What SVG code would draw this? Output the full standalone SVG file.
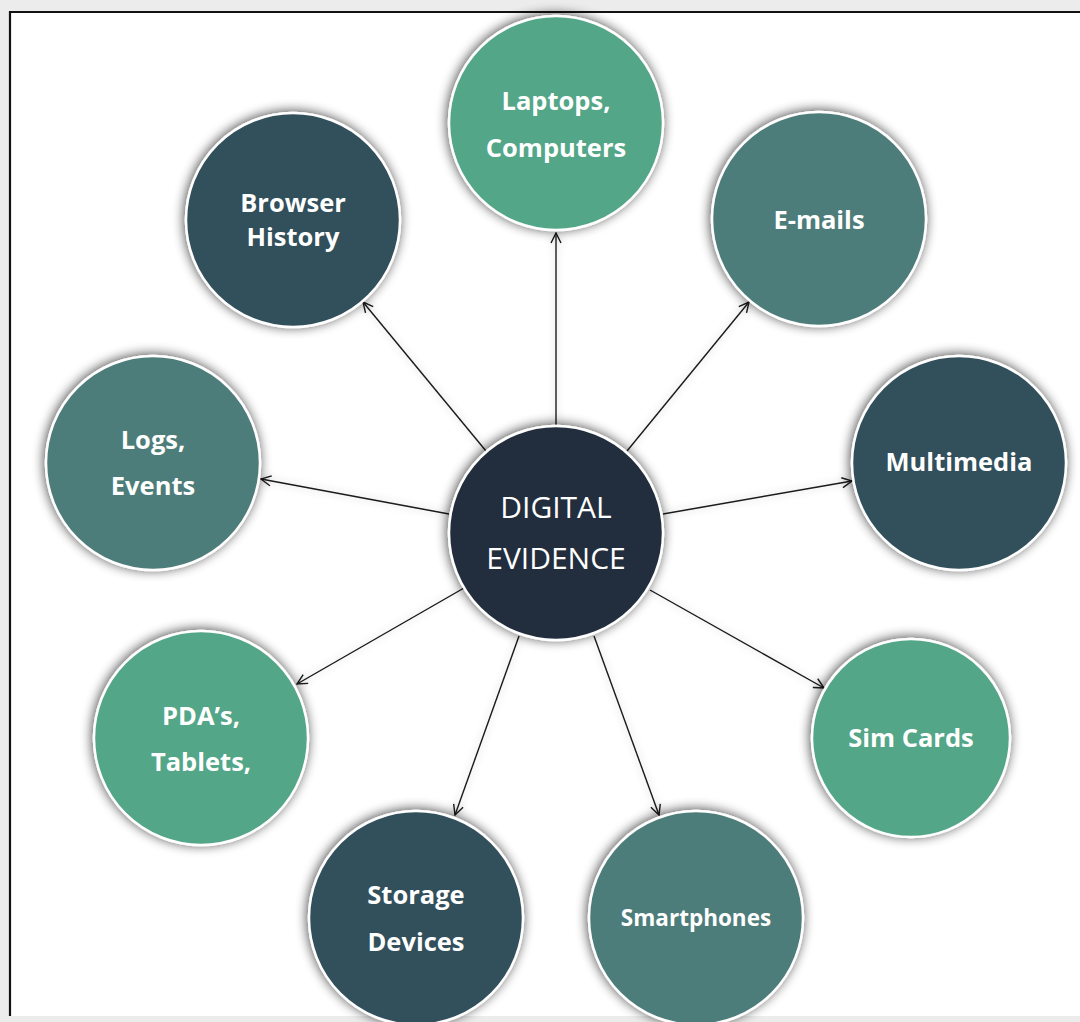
<svg xmlns="http://www.w3.org/2000/svg" width="1080" height="1022" viewBox="0 0 1080 1022">
<defs>
<style>
.node{stroke:#fff;stroke-width:2.5;filter:url(#sh)}
.green{fill:#52a688}
.teal{fill:#4e7d7a}
.dark{fill:#324f5c}
.center{fill:#222f3c}
.lbl{font-family:"Open Sans","Noto Sans",sans-serif;font-weight:700;font-size:25.5px;fill:#fff;text-anchor:middle}
.clbl{font-family:"Open Sans","Noto Sans",sans-serif;font-weight:400;font-size:30px;fill:#fff;text-anchor:middle}
.edge{stroke:#1a1a1a;stroke-width:1.4;fill:none;marker-end:url(#arr)}
</style>
<filter id="sh" x="-20%" y="-20%" width="140%" height="140%">
<feGaussianBlur in="SourceAlpha" stdDeviation="6"/>
<feOffset dx="-1" dy="-1" result="b"/>
<feComponentTransfer><feFuncA type="linear" slope="0.7"/></feComponentTransfer>
<feMerge><feMergeNode/><feMergeNode in="SourceGraphic"/></feMerge>
</filter>
<filter id="lsh" x="-20%" y="-20%" width="140%" height="140%">
<feGaussianBlur in="SourceAlpha" stdDeviation="4"/>
<feOffset dx="0" dy="0"/>
<feComponentTransfer><feFuncA type="linear" slope="0.25"/></feComponentTransfer>
<feMerge><feMergeNode/><feMergeNode in="SourceGraphic"/></feMerge>
</filter>
<marker id="arr" viewBox="0 0 12 12" refX="11" refY="6" markerWidth="12" markerHeight="12" markerUnits="userSpaceOnUse" orient="auto">
<path d="M1,1 L11,6 L1,11" fill="none" stroke="#1a1a1a" stroke-width="1.4"/>
</marker>
</defs>
<rect x="0" y="0" width="1080" height="1022" fill="#ececec"/>
<rect x="10" y="12" width="1070" height="1004" fill="#fff"/>
<path d="M10,1016 L10,12 L1080,12" fill="none" stroke="#111" stroke-width="2.2"/>

<g id="connectors" filter="url(#lsh)">
<line class="edge" x1="556" y1="426" x2="556" y2="233"/>
<line class="edge" x1="486" y1="451" x2="363" y2="302"/>
<line class="edge" x1="627" y1="451" x2="749" y2="302"/>
<line class="edge" x1="449" y1="514" x2="261" y2="479"/>
<line class="edge" x1="663" y1="514" x2="852" y2="481"/>
<line class="edge" x1="464" y1="588" x2="297" y2="684"/>
<line class="edge" x1="650" y1="590" x2="824" y2="688"/>
<line class="edge" x1="519" y1="636" x2="455" y2="815"/>
<line class="edge" x1="594" y1="636" x2="659" y2="815"/>
</g>

<g id="center">
<circle class="node center" cx="556" cy="533" r="107"/>
<text class="clbl" x="556" y="518">DIGITAL</text>
<text class="clbl" x="556" y="569">EVIDENCE</text>
</g>
<g id="laptops">
<circle class="node green" cx="556" cy="123" r="107"/>
<text class="lbl" x="556" y="110">Laptops,</text>
<text class="lbl" x="556" y="157">Computers</text>
</g>
<g id="browser">
<circle class="node dark" cx="293" cy="220" r="107"/>
<text class="lbl" x="293" y="212">Browser</text>
<text class="lbl" x="293" y="246">History</text>
</g>
<g id="emails">
<circle class="node teal" cx="819" cy="219" r="107"/>
<text class="lbl" x="819" y="229">E-mails</text>
</g>
<g id="logs">
<circle class="node teal" cx="153" cy="463" r="107"/>
<text class="lbl" x="153" y="449">Logs,</text>
<text class="lbl" x="153" y="495">Events</text>
</g>
<g id="multimedia">
<circle class="node dark" cx="959" cy="463" r="107"/>
<text class="lbl" x="959" y="471">Multimedia</text>
</g>
<g id="pda">
<circle class="node green" cx="201" cy="738" r="107"/>
<text class="lbl" x="201" y="725">PDA’s,</text>
<text class="lbl" x="201" y="771">Tablets,</text>
</g>
<g id="sim">
<circle class="node green" cx="911" cy="738" r="99"/>
<text class="lbl" x="911" y="747">Sim Cards</text>
</g>
<g id="storage">
<circle class="node dark" cx="416" cy="918" r="107"/>
<text class="lbl" x="416" y="904">Storage</text>
<text class="lbl" x="416" y="951">Devices</text>
</g>
<g id="smartphones">
<circle class="node teal" cx="696" cy="918" r="107"/>
<text class="lbl" x="696" y="926" style="font-size:22.5px">Smartphones</text>
</g>
</svg>
